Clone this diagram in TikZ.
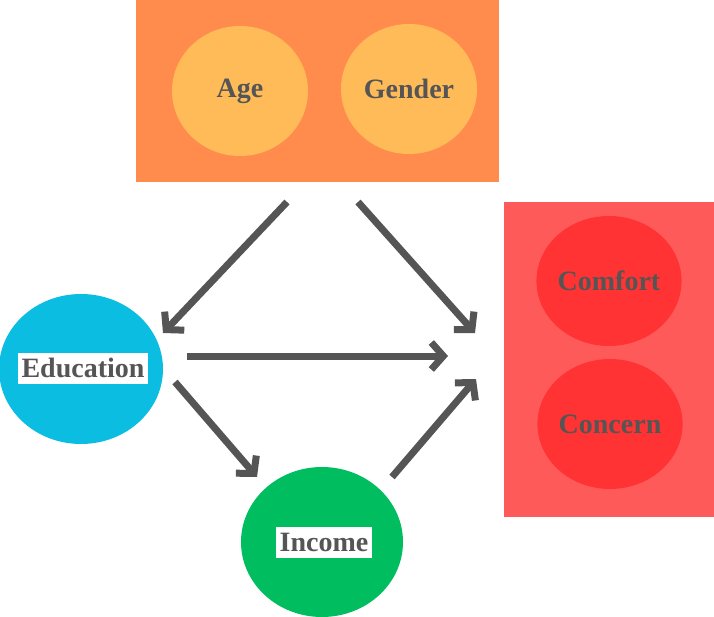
\documentclass[tikz,border=0pt]{standalone}
\usepackage{fontspec}
\setmainfont{Liberation Serif}
\usetikzlibrary{arrows.meta,shapes.geometric}
\definecolor{demoorange}{HTML}{FF8C4D}
\definecolor{demolight}{HTML}{FFBB58}
\definecolor{outred}{HTML}{FF5A5A}
\definecolor{outcircle}{HTML}{FF3333}
\definecolor{educyan}{HTML}{0BBDE0}
\definecolor{incgreen}{HTML}{00BE5F}
\definecolor{textgray}{HTML}{555555}
\begin{document}
\begin{tikzpicture}[x=1pt,y=-1pt,
    blob/.style={ellipse,inner sep=0pt,minimum width=136pt,minimum height=130pt,
      font=\fontsize{28}{32}\selectfont\bfseries,text=textgray},
    tag/.style={fill=white,inner xsep=3.5pt,inner ysep=0pt,minimum height=31pt,
      font=\fontsize{28}{32}\selectfont\bfseries,text=textgray},
    arr/.style={draw=textgray,line width=7pt,line join=miter,
      -{Straight Barb[length=12pt,width=27pt]}}]
    \useasboundingbox (0,0) rectangle (714,617);
    %
    \fill[demoorange] (136,0) rectangle (499,182);
    \node[blob,fill=demolight] (age) at (240,91) {Age};
    \node[blob,fill=demolight] (gender) at (409,89) {Gender};
    %
    \fill[outred] (504,202) rectangle (714,517);
    \node[blob,fill=outcircle] (comfort) at (609,281) {Comfort};
    \node[blob,fill=outcircle] (concern) at (610,424) {Concern};
    %
    \node[blob,fill=educyan,minimum width=164pt,minimum height=150pt] (edu) at (81,369) {};
    \node[tag] (edutag) at (83,368) {Education};
    \node[blob,fill=incgreen,minimum width=162pt,minimum height=150pt] (inc) at (322,542) {};
    \node[tag] (inctag) at (324,542) {Income};
    %
    \coordinate (demoL) at (287,202);
    \coordinate (demoR) at (358,202);
    \coordinate (eduIn) at (163,333);
    \coordinate (outTop) at (475,333);
    \coordinate (eduR) at (187,356);
    \coordinate (outMid) at (448,356);
    \coordinate (eduB) at (175,382);
    \coordinate (incIn) at (257,477);
    \coordinate (incOut) at (392,477);
    \coordinate (outLow) at (476,379);
    %
    \draw[arr] (demoL) -- (eduIn);
    \draw[arr] (demoR) -- (outTop);
    \draw[arr] (eduR) -- (outMid);
    \draw[arr] (eduB) -- (incIn);
    \draw[arr] (incOut) -- (outLow);
\end{tikzpicture}
\end{document}
